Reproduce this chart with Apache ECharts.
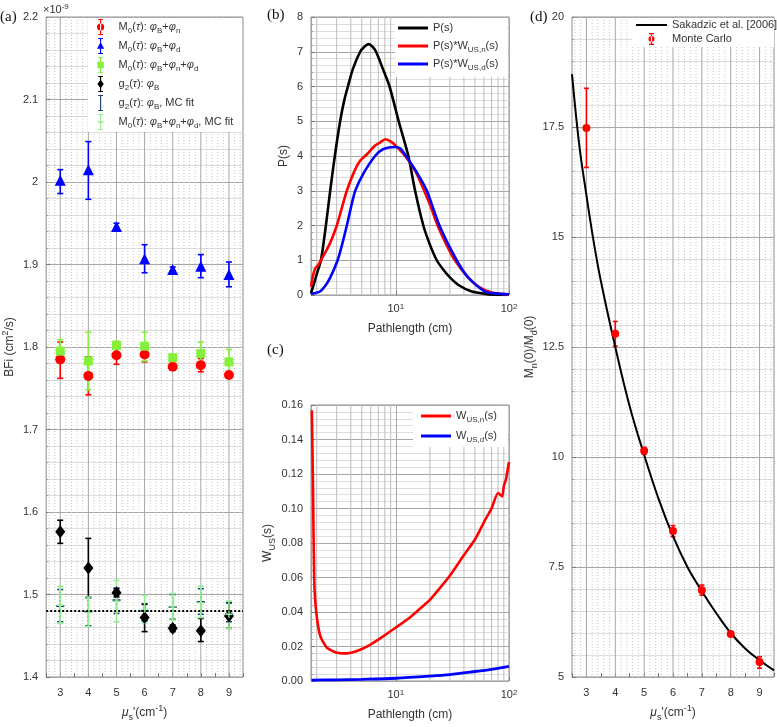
<!DOCTYPE html>
<html><head><meta charset="utf-8">
<script src="https://cdn.jsdelivr.net/npm/echarts@6/dist/echarts.min.js"></script>
<style>html,body{margin:0;padding:0;background:#fff}#c{width:777px;height:727px}</style>
</head><body><div id="c"></div>
<script>
// ---------- Panel (a): BFi vs mu_s' ----------
const mus = [3, 4, 5, 6, 7, 8, 9];
const bfiN    = [1.785, 1.765, 1.790, 1.791, 1.776, 1.778, 1.766];
const bfiNLo  = [1.762, 1.742, 1.779, 1.782, 1.772, 1.770, 1.763];
const bfiNHi  = [1.806, 1.788, 1.800, 1.800, 1.780, 1.786, 1.769];
const bfiD    = [2.002, 2.015, 1.946, 1.907, 1.894, 1.898, 1.888];
const bfiDLo  = [1.986, 1.979, 1.943, 1.890, 1.892, 1.884, 1.873];
const bfiDHi  = [2.015, 2.049, 1.950, 1.924, 1.897, 1.912, 1.903];
const bfiND   = [1.795, 1.783, 1.802, 1.801, 1.787, 1.792, 1.782];
const bfiNDLo = [1.781, 1.748, 1.797, 1.783, 1.783, 1.777, 1.769];
const bfiNDHi = [1.809, 1.818, 1.807, 1.818, 1.791, 1.806, 1.797];
const bfiG2   = [1.576, 1.532, 1.502, 1.472, 1.459, 1.456, 1.474];
const bfiG2Lo = [1.562, 1.497, 1.497, 1.455, 1.455, 1.443, 1.459];
const bfiG2Hi = [1.590, 1.568, 1.507, 1.488, 1.463, 1.471, 1.490];
const bfiG2F   = [1.486, 1.479, 1.493, 1.480, 1.485, 1.491, 1.476];
const bfiG2FLo = [1.467, 1.462, 1.477, 1.468, 1.470, 1.476, 1.467];
const bfiG2FHi = [1.506, 1.496, 1.508, 1.489, 1.500, 1.507, 1.490];
const bfiMF   = [1.487, 1.478, 1.492, 1.482, 1.485, 1.490, 1.476];
const bfiMFLo = [1.465, 1.461, 1.467, 1.465, 1.469, 1.472, 1.459];
const bfiMFHi = [1.510, 1.497, 1.517, 1.499, 1.501, 1.510, 1.492];
const bfiTrue = 1.48;

// ---------- Panel (b): pathlength distributions ----------
const sP   = [1.78, 1.9, 2.0, 2.18, 2.41, 2.63, 2.89, 3.22, 3.5, 3.77, 4.17, 4.84, 5.3, 5.73, 6.2, 6.69, 7.7, 8.8, 10.6, 12.9, 14.8, 17.5, 20, 23.0, 26, 30.2, 36, 46.8, 60, 72, 100];
const valP = [0.05, 0.35, 0.6, 1.0, 2.0, 3.0, 4.0, 5.0, 5.6, 6.0, 6.5, 7.0, 7.15, 7.22, 7.15, 7.0, 6.5, 6.0, 5.0, 4.0, 3.0, 2.0, 1.45, 1.0, 0.75, 0.5, 0.28, 0.1, 0.04, 0.01, 0.0];
const sPn   = [1.78, 1.85, 1.94, 2.05, 2.18, 2.4, 2.63, 3.01, 3.33, 3.69, 4.22, 4.8, 5.55, 6.56, 7.2, 8.05, 9.2, 10.5, 12.1, 14, 15.5, 17.8, 20, 23.4, 28, 33.2, 43.7, 55, 70, 100];
const valPn = [0.24, 0.55, 0.77, 0.85, 1.0, 1.25, 1.5, 2.0, 2.5, 3.0, 3.5, 3.85, 4.05, 4.3, 4.38, 4.48, 4.4, 4.22, 4.0, 3.7, 3.45, 3.0, 2.6, 2.0, 1.45, 1.0, 0.5, 0.22, 0.07, 0.01];
const sPd   = [1.78, 1.9, 2.14, 2.4, 2.63, 3.06, 3.38, 3.69, 4.0, 4.38, 5.18, 6.56, 7.77, 9.86, 10.9, 12.3, 15.5, 18.8, 24.3, 34.5, 43.7, 61.6, 80, 100];
const valPd = [0.03, 0.05, 0.1, 0.28, 0.5, 1.0, 1.5, 2.0, 2.5, 3.0, 3.5, 4.0, 4.2, 4.26, 4.22, 4.0, 3.5, 3.0, 2.0, 1.0, 0.5, 0.1, 0.04, 0.02];

// ---------- Panel (c): weighting functions ----------
const sWn   = [1.81, 1.85, 1.90, 1.98, 2.15, 2.46, 3.01, 3.69, 4.53, 5.93, 7.77, 10, 13.4, 16.4, 20, 24.6, 30, 40, 50, 60, 70, 80, 87, 90, 94, 100];
const valWn = [0.157, 0.117, 0.059, 0.040, 0.026, 0.0193, 0.0164, 0.016, 0.0174, 0.021, 0.026, 0.031, 0.037, 0.042, 0.047, 0.054, 0.061, 0.073, 0.082, 0.092, 0.100, 0.109, 0.107, 0.113, 0.117, 0.127];
const sWd   = [1.8, 3, 5, 10, 20, 30, 50, 70, 100];
const valWd = [0.0005, 0.0007, 0.001, 0.0016, 0.0028, 0.0037, 0.0055, 0.0068, 0.0085];

// ---------- Panel (d): Mn(0)/Md(0) ----------
const musTheory = [2.5, 2.75, 3, 3.25, 3.5, 4, 4.5, 5, 5.5, 6, 6.5, 7, 7.5, 8, 8.5, 9, 9.5];
const ratioTheory = [18.7, 17.1, 15.95, 14.9, 14.0, 12.5, 11.15, 10.05, 9.05, 8.2, 7.5, 6.95, 6.45, 6.0, 5.65, 5.38, 5.15];
const ratioMC   = [17.48, 12.80, 10.14, 8.32, 6.97, 5.98, 5.34];
const ratioMCLo = [16.58, 12.52, 10.06, 8.19, 6.86, 5.93, 5.20];
const ratioMCHi = [18.38, 13.08, 10.22, 8.44, 7.09, 6.03, 5.46];

// ---------- styling helpers ----------
const FONT = 'Liberation Sans, Arial, Helvetica, sans-serif';
const TXT = '#333333';
const MAJ = '#a6a6a6', MIN = '#dedede', MINV = '#c4c4c4';
const rich = {
  sub: {fontSize: 8, lineHeight: 9, verticalAlign: 'bottom', fontFamily: FONT, color: TXT},
  sup: {fontSize: 8, lineHeight: 9, verticalAlign: 'top', fontFamily: FONT, color: TXT},
  it:  {fontSize: 11, lineHeight: 16, fontStyle: 'italic', fontFamily: FONT, color: TXT}
};
const richN = {
  sub: {fontSize: 9, lineHeight: 10, verticalAlign: 'bottom', fontFamily: FONT, color: TXT},
  sup: {fontSize: 9, lineHeight: 10, verticalAlign: 'top', fontFamily: FONT, color: TXT},
  it:  {fontSize: 12, lineHeight: 18, fontStyle: 'italic', fontFamily: FONT, color: TXT}
};
const nameStyle = {fontFamily: FONT, fontSize: 12, color: TXT, lineHeight: 18, rich: richN};

const pairs = (xs, ys) => xs.map((x, i) => [x, ys[i]]);
const triples = (xs, lo, hi) => xs.map((x, i) => [x, lo[i], hi[i]]);

const ebRender = (color, capW, lw, dash) => (params, api) => {
  const x = api.value(0);
  const a = api.coord([x, api.value(1)]);
  const b = api.coord([x, api.value(2)]);
  const h = capW / 2;
  const st = () => ({stroke: color, lineWidth: lw, lineDash: dash || null, fill: null});
  return {type: 'group', children: [
    {type: 'line', shape: {x1: a[0], y1: a[1], x2: b[0], y2: b[1]}, style: st()},
    {type: 'line', shape: {x1: a[0] - h, y1: a[1], x2: a[0] + h, y2: a[1]}, style: st()},
    {type: 'line', shape: {x1: b[0] - h, y1: b[1], x2: b[0] + h, y2: b[1]}, style: st()}
  ]};
};
function errSeries(name, gi, xs, lo, hi, color, capW, lw, dash) {
  return {type: 'custom', name, xAxisIndex: gi, yAxisIndex: gi, z: 3,
    itemStyle: {color}, renderItem: ebRender(color, capW, lw, dash),
    data: triples(xs, lo, hi), encode: {x: 0, y: [1, 2]}, silent: true, clip: true};
}
function markSeries(name, gi, xs, ys, color, symbol, size) {
  return {type: 'scatter', name, xAxisIndex: gi, yAxisIndex: gi, z: 3,
    symbol, symbolSize: size, itemStyle: {color, opacity: 1}, data: pairs(xs, ys), silent: true};
}
const vlineRender = (color, dash) => (params, api) => {
  const p = api.coord([api.value(0), api.value(1)]);
  const cs = params.coordSys;
  return {type: 'line', shape: {x1: p[0], y1: cs.y, x2: p[0], y2: cs.y + cs.height},
    style: {stroke: color, lineWidth: 1, lineDash: dash || null}};
};
function vGrid(gi, positions, yref, color, dash) {
  return {type: 'custom', xAxisIndex: gi, yAxisIndex: gi, z: 1, silent: true,
    renderItem: vlineRender(color, dash), data: positions.map(v => [v, yref]),
    encode: {x: 0, y: 1}, tooltip: {show: false}};
}
function lineSeries(name, gi, xs, ys, color, w, smooth) {
  return {type: 'line', name, xAxisIndex: gi, yAxisIndex: gi, z: 3, data: pairs(xs, ys),
    showSymbol: false, symbol: 'none', smooth: smooth || 0,
    lineStyle: {color, width: w}, itemStyle: {color}, silent: true};
}

// gridline positions
const linMinor = []; for (let k = 13; k <= 47; k++) if (k % 5) linMinor.push(k / 5);
const logMinor = []; [1, 10].forEach(d => { for (let m = 2; m <= 9; m++) logMinor.push(m * d); });

const axisBase = {
  axisLine: {show: false},
  axisTick: {inside: true, length: 4, lineStyle: {color: '#777'}},
  axisLabel: {fontFamily: FONT, fontSize: 11, color: TXT, rich: rich},
  nameTextStyle: nameStyle, nameLocation: 'middle'
};
const ySplit = {splitLine: {show: true, lineStyle: {color: MAJ, width: 1}},
  minorTick: {show: true, splitNumber: 5, length: 2, lineStyle: {color: '#999'}},
  minorSplitLine: {show: true, lineStyle: {color: MIN, width: 1}}};

const gridStyle = {show: true, borderColor: '#8c8c8c', borderWidth: 1, backgroundColor: '#fff'};

const MUS_NAME = '{it|μ}{sub|s}\'(cm{sup|-1})';
const logFmt = v => (Math.abs(v - 10) < 1e-6 ? '10{sup|1}' : (Math.abs(v - 100) < 1e-6 ? '10{sup|2}' : ''));

const option = {
  animation: false,
  grid: [
    Object.assign({left: 42, top: 17, width: 201, height: 665}, gridStyle),
    Object.assign({left: 311, top: 17, width: 198, height: 278}, gridStyle),
    Object.assign({left: 311, top: 405, width: 198, height: 276}, gridStyle),
    Object.assign({left: 572, top: 17, width: 203, height: 665}, gridStyle)
  ],
  xAxis: [
    Object.assign({}, axisBase, {gridIndex: 0, type: 'value', min: 2.5, max: 9.5, interval: 0.5,
      splitLine: {show: false}, name: MUS_NAME, nameGap: 27,
      axisLabel: Object.assign({}, axisBase.axisLabel, {margin: 10, formatter: v => Number.isInteger(v) ? String(v) : ''})}),
    Object.assign({}, axisBase, {gridIndex: 1, type: 'log', logBase: 10, min: 1.78, max: 100,
      splitLine: {show: true, lineStyle: {color: MAJ}}, name: 'Pathlength (cm)', nameGap: 25,
      axisLabel: Object.assign({}, axisBase.axisLabel, {margin: 8, showMinLabel: false, formatter: logFmt})}),
    Object.assign({}, axisBase, {gridIndex: 2, type: 'log', logBase: 10, min: 1.78, max: 100,
      splitLine: {show: true, lineStyle: {color: MAJ}}, name: 'Pathlength (cm)', nameGap: 25,
      axisLabel: Object.assign({}, axisBase.axisLabel, {margin: 8, showMinLabel: false, formatter: logFmt})}),
    Object.assign({}, axisBase, {gridIndex: 3, type: 'value', min: 2.5, max: 9.5, interval: 0.5,
      splitLine: {show: false}, name: MUS_NAME, nameGap: 27,
      axisLabel: Object.assign({}, axisBase.axisLabel, {margin: 10, formatter: v => Number.isInteger(v) ? String(v) : ''})})
  ],
  yAxis: [
    Object.assign({}, axisBase, ySplit, {gridIndex: 0, type: 'value', min: 1.4, max: 2.2, interval: 0.1,
      name: 'BFi (cm{sup|2}/s)', nameGap: 18,
      axisLabel: Object.assign({}, axisBase.axisLabel, {formatter: v => String(Math.round(v * 10) / 10)})}),
    Object.assign({}, axisBase, ySplit, {gridIndex: 1, type: 'value', min: 0, max: 8, interval: 1,
      name: 'P(s)', nameGap: 7}),
    Object.assign({}, axisBase, ySplit, {gridIndex: 2, type: 'value', min: 0, max: 0.16, interval: 0.02,
      name: 'W{sub|US}(s)', nameGap: 34,
      axisLabel: Object.assign({}, axisBase.axisLabel, {formatter: v => v.toFixed(2)})}),
    Object.assign({}, axisBase, ySplit, {gridIndex: 3, type: 'value', min: 5, max: 20, interval: 2.5,
      name: 'M{sub|n}(0)/M{sub|d}(0)', nameGap: 22})
  ],
  legend: [
    {left: 97, top: 19, orient: 'vertical', padding: 0, itemGap: 3, itemWidth: 20, itemHeight: 16,
      selectedMode: false, z: 6,
      data: [
        {name: 'Mn', icon: 'path://M7 0h6v1.4H7z M9.3 1h1.4v18h-1.4z M7 18.6h6V20H7z M5.5 10a4.5 4.5 0 1 0 9 0a4.5 4.5 0 1 0 -9 0z'},
        {name: 'Md', icon: 'path://M7 0h6v1.4H7z M9.3 1h1.4v18h-1.4z M7 18.6h6V20H7z M10 5L14.5 13.5H5.5z'},
        {name: 'Mnd', icon: 'path://M7 0h6v1.4H7z M9.3 1h1.4v18h-1.4z M7 18.6h6V20H7z M6 6h8v8H6z'},
        {name: 'g2', icon: 'path://M7 0h6v1.4H7z M9.3 1h1.4v18h-1.4z M7 18.6h6V20H7z M10 4.5L14 10L10 15.5L6 10z'},
        {name: 'g2fit', icon: 'path://M7 0h6v1.4H7z M9.3 1h1.4v18h-1.4z M7 18.6h6V20H7z'},
        {name: 'Mfit', icon: 'path://M7 0h6v1.4H7z M9.3 1h1.4v18h-1.4z M7 18.6h6V20H7z M6.5 9.2h7v1.6h-7z'}
      ],
      textStyle: {fontFamily: FONT, fontSize: 11, color: TXT, lineHeight: 16, padding: [0, 0, 0, 3], rich: rich},
      formatter: n => ({
        Mn: 'M{sub|0}({it|τ}): {it|φ}{sub|B}+{it|φ}{sub|n}',
        Md: 'M{sub|0}({it|τ}): {it|φ}{sub|B}+{it|φ}{sub|d}',
        Mnd: 'M{sub|0}({it|τ}): {it|φ}{sub|B}+{it|φ}{sub|n}+{it|φ}{sub|d}',
        g2: 'g{sub|2}({it|τ}): {it|φ}{sub|B}',
        g2fit: 'g{sub|2}({it|τ}): {it|φ}{sub|B}, MC fit',
        Mfit: 'M{sub|0}({it|τ}): {it|φ}{sub|B}+{it|φ}{sub|n}+{it|φ}{sub|d}, MC fit'
      })[n]},
    {left: 398, top: 20, orient: 'vertical', padding: 0, itemGap: 2, itemWidth: 30, itemHeight: 15,
      selectedMode: false, z: 6,
      data: [
        {name: 'P', icon: 'path://M0 0h30v3H0z'},
        {name: 'Pn', icon: 'path://M0 0h30v3H0z'},
        {name: 'Pd', icon: 'path://M0 0h30v3H0z'}
      ],
      textStyle: {fontFamily: FONT, fontSize: 11, color: TXT, lineHeight: 16, rich: rich},
      formatter: n => ({P: 'P(s)', Pn: 'P(s)*W{sub|US,n}(s)', Pd: 'P(s)*W{sub|US,d}(s)'})[n]},
    {left: 421, top: 408, orient: 'vertical', padding: 0, itemGap: 4, itemWidth: 30, itemHeight: 15,
      selectedMode: false, z: 6,
      data: [
        {name: 'Wn', icon: 'path://M0 0h30v3H0z'},
        {name: 'Wd', icon: 'path://M0 0h30v3H0z'}
      ],
      textStyle: {fontFamily: FONT, fontSize: 11, color: TXT, lineHeight: 16, rich: rich},
      formatter: n => ({Wn: 'W{sub|US,n}(s)', Wd: 'W{sub|US,d}(s)'})[n]},
    {left: 636, top: 19, orient: 'vertical', padding: 0, itemGap: 2, itemWidth: 31, itemHeight: 12,
      selectedMode: false, z: 6,
      data: [
        {name: 'Sakadzic et al. [2006]', icon: 'path://M0 5h31v2H0z'},
        {name: 'Monte Carlo', icon: 'path://M4 0h5v1.3H4z M5.9 1h1.2v10H5.9z M4 10.7h5V12H4z M3.5 6a3 3 0 1 0 6 0a3 3 0 1 0 -6 0z'}
      ],
      textStyle: {fontFamily: FONT, fontSize: 11, color: TXT, lineHeight: 12}}
  ],
  graphic: [
    {type: 'rect', z: 5, shape: {x: 88, y: 18, width: 154, height: 114}, style: {fill: '#fff'}},
    {type: 'rect', z: 5, shape: {x: 395, y: 18, width: 113, height: 59}, style: {fill: '#fff'}},
    {type: 'rect', z: 5, shape: {x: 413, y: 406, width: 95, height: 41}, style: {fill: '#fff'}},
    {type: 'rect', z: 5, shape: {x: 632, y: 18, width: 142, height: 29}, style: {fill: '#fff'}},
    {type: 'text', z: 6, x: 0, y: 17, style: {text: '(a)', font: '15px "Liberation Serif", serif', fill: '#111', verticalAlign: 'middle'}},
    {type: 'text', z: 6, x: 267, y: 15, style: {text: '(b)', font: '15px "Liberation Serif", serif', fill: '#111', verticalAlign: 'middle'}},
    {type: 'text', z: 6, x: 267, y: 350, style: {text: '(c)', font: '15px "Liberation Serif", serif', fill: '#111', verticalAlign: 'middle'}},
    {type: 'text', z: 6, x: 530, y: 17, style: {text: '(d)', font: '15px "Liberation Serif", serif', fill: '#111', verticalAlign: 'middle'}},
    {type: 'text', z: 6, x: 43, y: 3, style: {text: '×10{sup|-9}', fontFamily: FONT, fontSize: 11, fill: TXT, lineHeight: 14,
      rich: {sup: {fontSize: 8, lineHeight: 8, verticalAlign: 'top', fontFamily: FONT, fill: TXT, color: TXT}}}}
  ],
  series: [
    // grid lines
    vGrid(0, linMinor, 1.5, MINV, [1, 2]),
    vGrid(0, mus, 1.5, MAJ),
    vGrid(3, linMinor, 6, MINV, [1, 2]),
    vGrid(3, mus, 6, MAJ),
    vGrid(1, logMinor, 1, '#bdbdbd'),
    vGrid(2, logMinor, 0.01, '#bdbdbd'),
    // panel (a)
    errSeries('Mn', 0, mus, bfiNLo, bfiNHi, '#ff0000', 6, 1.6),
    markSeries('Mn', 0, mus, bfiN, '#ff0000', 'circle', 10),
    errSeries('Md', 0, mus, bfiDLo, bfiDHi, '#0000ff', 6, 1.6),
    markSeries('Md', 0, mus, bfiD, '#0000ff', 'triangle', 11),
    errSeries('Mnd', 0, mus, bfiNDLo, bfiNDHi, '#84f03c', 6, 1.6),
    markSeries('Mnd', 0, mus, bfiND, '#84f03c', 'rect', 9),
    errSeries('g2', 0, mus, bfiG2Lo, bfiG2Hi, '#000000', 6, 1.6),
    Object.assign(markSeries('g2', 0, mus, bfiG2, '#000000', 'diamond', [10, 13]), {
      markLine: {silent: true, symbol: 'none', label: {show: false},
        lineStyle: {color: '#000', type: [2, 2], width: 2}, data: [{yAxis: bfiTrue}]}}),
    errSeries('g2fit', 0, mus, bfiG2FLo, bfiG2FHi, '#1c3a74', 6, 1.6, [2, 2]),
    markSeries('g2fit', 0, mus, bfiG2F, '#1c3a74', 'path://M0 0h3v2H0z M5 0h3v2H5z', [8, 2]),
    errSeries('Mfit', 0, mus, bfiMFLo, bfiMFHi, '#90ee90', 6, 1.6),
    markSeries('Mfit', 0, mus, bfiMF, '#90ee90', 'path://M0 4h10v2H0z M4 0h2v10H4z', 7),
    // panel (b)
    lineSeries('P', 1, sP, valP, '#000000', 2.6, 0.25),
    lineSeries('Pn', 1, sPn, valPn, '#ff0000', 2.6, 0.25),
    lineSeries('Pd', 1, sPd, valPd, '#0000ff', 2.6, 0.25),
    // panel (c)
    lineSeries('Wn', 2, sWn, valWn, '#ff0000', 2.6, 0.2),
    lineSeries('Wd', 2, sWd, valWd, '#0000ff', 2.8, 0.3),
    // panel (d)
    lineSeries('Sakadzic et al. [2006]', 3, musTheory, ratioTheory, '#000000', 2, 0.4),
    errSeries('Monte Carlo', 3, mus, ratioMCLo, ratioMCHi, '#ff0000', 5, 1.6),
    markSeries('Monte Carlo', 3, mus, ratioMC, '#ff0000', 'circle', 8)
  ]
};
const chart = echarts.init(document.getElementById('c'), null, {renderer: 'canvas'});
chart.setOption(option);
</script></body></html>
